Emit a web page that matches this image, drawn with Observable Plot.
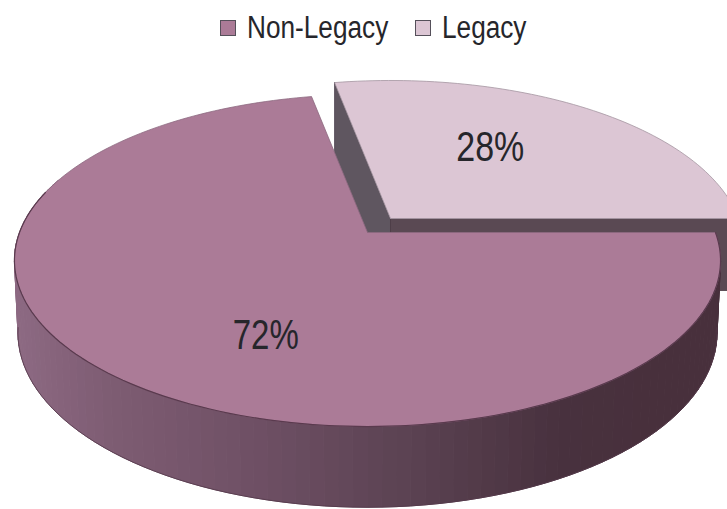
<!DOCTYPE html>
<html><head><meta charset="utf-8">
<script src="https://cdn.jsdelivr.net/npm/d3@7"></script>
<script src="https://cdn.jsdelivr.net/npm/@observablehq/plot@0.6"></script>
<style>
html,body{margin:0;padding:0;background:#fff;overflow:hidden;width:727px;height:509px}
#legend{height:55px;box-sizing:border-box;padding:0 0 0 220px;display:flex;align-items:center;font-family:"Liberation Sans",Arial,sans-serif;font-size:31px;line-height:36px;color:#26262b}
#legend .k{width:16px;height:16px;border:1.5px solid #55505a;box-sizing:border-box;display:inline-block;margin-right:11px;flex:none}
#legend .i{display:flex;align-items:center;margin-right:27px}
#legend .t{display:inline-block;transform:scaleX(.845);transform-origin:left center;white-space:nowrap}
svg{display:block}
</style></head><body>
<div id="legend"></div>
<div id="chart"></div>
<script>
const categories = ["Non-Legacy", "Legacy"];
const shares = [72, 28];
const topColors = ["#ab7b97", "#dcc6d4"];

// Projection of the tilted disc (layout only)
const W = 727, H = 509, LEG = 55;
const cx = 367, cy = 232, a = 348, b = 161.3, k = 0.1687;
const floorDrop = 71, floorSx = 0.99, floorSy = 1.05; // lower rim of the drum
const depthLegacy = 72;
const explode = [23, -14];
const seamDeg = 90; // the slices meet at three o'clock

const legacyDeg = shares[1] / 100 * 360;
const legacyStart = seamDeg - legacyDeg, legacyEnd = seamDeg;
const mainStart = seamDeg, mainEnd = seamDeg + shares[0] / 100 * 360;

function proj(deg, r = 1, dx = 0, dy = 0) {
  const t = deg * Math.PI / 180, x = r * Math.sin(t), y = r * Math.cos(t), d = 1 + k * y;
  return {x: cx + a * x / d + dx, y: cy - b * y / d + dy};
}
function floor(deg) {
  const p = proj(deg);
  return {x: cx + floorSx * (p.x - cx), y: cy + floorDrop + floorSy * (p.y - cy)};
}
function arc(from, to, dx = 0, dy = 0) {
  const n = Math.max(2, Math.ceil(Math.abs(to - from) / 1.5)), out = [];
  for (let i = 0; i <= n; i++) out.push(proj(from + (to - from) * i / n, 1, dx, dy));
  return out;
}
const [ex, ey] = explode;
const apexM = {x: cx, y: cy}, apexL = {x: cx + ex, y: cy + ey};

const mainTop = [apexM, ...arc(mainStart, mainEnd), apexM];
const legacyTop = [apexL, ...arc(legacyStart, legacyEnd, ex, ey), apexL];

const down = (p, t) => ({x: p.x, y: p.y + t});
const tipL = proj(legacyStart, 1, ex, ey), eastL = proj(legacyEnd, 1, ex, ey);
const wallA = [tipL, apexL, down(apexL, depthLegacy), down(tipL, depthLegacy), tipL];
const wallB = [apexL, eastL, down(eastL, depthLegacy), down(apexL, depthLegacy), apexL];

const sideColor = d3.scaleLinear()
  .domain([14, 100, 250, 400, 560, 660, 720])
  .range(["#8d6a83", "#7f5d74", "#6f5065", "#5c4353", "#48313e", "#48303c", "#48303c"]);

const strips = [];
const stepDeg = 2;
for (let s = 0, deg = 90; deg < 290; deg += stepDeg, s++) {
  const p = proj(deg), q = proj(deg + stepDeg);
  const c = sideColor((p.x + q.x) / 2);
  for (const v of [p, q, floor(deg + stepDeg), floor(deg), p]) strips.push({...v, s, c});
}
const lowerRim = arc(mainStart, 285);
const floorRim = d3.range(98, 263, 2).map(floor);

const labels = [
  {text: shares[1] + "%", ...proj(33.1, 0.567, ex, ey)},
  {text: shares[0] + "%", ...proj(204.6, 0.634)}
];
const labelWidths = [68, 66];

const poly = (pts, fill, stroke = fill, sw = 1) =>
  Plot.line(pts, {x: "x", y: "y", fill, stroke, strokeWidth: sw, curve: "linear"});

const chart = Plot.plot({
  width: W, height: H - LEG,
  margin: 0,
  x: {domain: [0, W], range: [0, W], axis: null},
  y: {domain: [LEG, H], range: [0, H - LEG], axis: null},
  style: {background: "#fff"},
  marks: [
    poly(wallA, "#5f5660", "#4e4450", 0.8),
    poly(wallB, "#5a4953", "#4a3a44", 0.8),
    poly(legacyTop, topColors[1], "#a596a1", 0.8),
    Plot.line(strips, {x: "x", y: "y", z: "s", fill: "c", stroke: "c", strokeWidth: 1, curve: "linear"}),
    Plot.line(floorRim, {x: "x", y: "y", stroke: "#54384a", strokeWidth: 0.8}),
    poly(mainTop, topColors[0], "#8d6a80", 0.8),
    Plot.line(lowerRim, {x: "x", y: "y", stroke: "#5a3a4e", strokeWidth: 1.2}),
    Plot.text(labels, {x: "x", y: "y", text: "text", fontSize: 42, fill: "#26262b",
      fontFamily: '"Liberation Sans",Arial,sans-serif'})
  ]
});
d3.select(chart).selectAll("text").each(function (_, i) {
  this.setAttribute("textLength", labelWidths[i]);
  this.setAttribute("lengthAdjust", "spacingAndGlyphs");
});
document.getElementById("chart").append(chart);

const leg = d3.select("#legend");
const textWidths = [141, 85];
categories.forEach((c, i) => {
  const it = leg.append("span").attr("class", "i");
  it.append("span").attr("class", "k").style("background", topColors[i]);
  it.append("span").style("width", textWidths[i] + "px").append("span").attr("class", "t").text(c);
});
</script>
</body></html>
